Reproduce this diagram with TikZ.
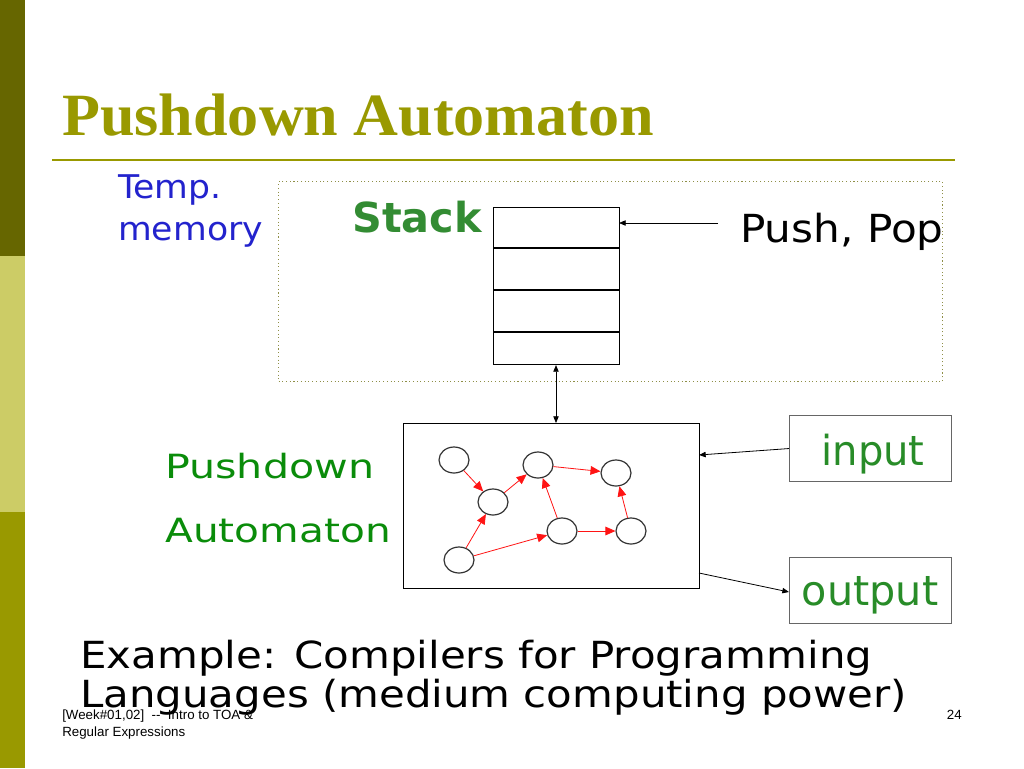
\documentclass[tikz,border=0pt]{standalone}
\usepackage{graphicx}
\usepackage{fontspec}
\setmainfont{DejaVu Sans}
\newfontfamily\titlefont{Liberation Serif}
\newfontfamily\footfont{Liberation Sans}
\usetikzlibrary{arrows.meta,shapes.geometric}
\definecolor{olivedark}{RGB}{102,102,0}
\definecolor{olivelight}{RGB}{204,204,102}
\definecolor{olivemid}{RGB}{153,153,0}
\definecolor{tempblue}{RGB}{35,35,205}
\definecolor{stackgreen}{RGB}{51,140,51}
\definecolor{pdagreen}{RGB}{10,140,10}
\definecolor{iogreen}{RGB}{40,140,40}
\definecolor{edgered}{RGB}{255,20,20}
\tikzset{
  px/.style={x=0.75pt,y=-0.75pt},
  txt/.style={anchor=base west, inner sep=0pt},
  state/.style={draw=black!80, line width=0.9pt, ellipse, minimum width=22.5pt, minimum height=19.5pt, inner sep=0pt},
  redarr/.style={draw=edgered, line width=0.6pt, -{Triangle[length=7.5pt,width=6.5pt]}},
  blkarr/.style={draw=black, line width=0.6pt, -{Triangle[length=5pt,width=4pt]}},
  iobox/.style={draw=black!60, line width=0.8pt, minimum width=121.5pt, minimum height=49.5pt, inner sep=0pt},
}
\begin{document}
\begin{tikzpicture}[px]
\useasboundingbox (0,0) rectangle (1024,768);
\fill[white] (0,0) rectangle (1024,768);
% left bar
\fill[olivedark] (0,0) rectangle (25,256);
\fill[olivelight] (0,256) rectangle (25,512);
\fill[olivemid] (0,512) rectangle (25,768);
% title
\node[txt, text=olivemid, font=\titlefont\bfseries\fontsize{45}{50}\selectfont] (title) at (62,135) {\scalebox{1.035}[1]{Pushdown Automaton}};
\draw[olivemid, line width=1.5pt] (52,160) -- (955,160);
% dotted memory area
\node[draw=olivelight!70!black, dotted, line width=0.8pt, minimum width=498pt, minimum height=150pt, inner sep=0pt, anchor=north west] (mem) at (278,181) {};
\node[txt, text=tempblue, font=\fontsize{24.5}{28}\selectfont] (temp) at (118,198) {\scalebox{1.06}[1]{Temp.}};
\node[txt, text=tempblue, font=\fontsize{24.5}{28}\selectfont] (memory) at (118,240) {\scalebox{1.06}[1]{memory}};
\node[txt, text=stackgreen, font=\bfseries\fontsize{31}{36}\selectfont] (stacklbl) at (352,232) {Stack};
% stack
\node[draw, line width=0.8pt, minimum width=94.5pt, minimum height=117.75pt, inner sep=0pt, anchor=north west] (stack) at (493,207) {};
\draw[line width=0.8pt] (493,248) -- (619,248);
\draw[line width=0.8pt] (493,290) -- (619,290);
\draw[line width=0.8pt] (493,332) -- (619,332);
\coordinate (pp) at (718,223);
\draw[blkarr] (pp) -- (619,223);
\node[txt, font=\fontsize{29}{34}\selectfont] (push) at (740,242) {\scalebox{1.09}[1]{Push, Pop}};
% automaton box
\node[draw, line width=0.9pt, minimum width=222pt, minimum height=123.75pt, inner sep=0pt, anchor=north west] (pda) at (403,423) {};
\draw[line width=0.6pt, {Triangle[length=5pt,width=4pt]}-{Triangle[length=5pt,width=4pt]}] (stack.south -| 556,0) -- (pda.north -| 556,0);
\node[txt, text=pdagreen, font=\fontsize{25}{30}\selectfont] (pl1) at (165,478) {\scalebox{1.235}[1]{Pushdown}};
\node[txt, text=pdagreen, font=\fontsize{25}{30}\selectfont] (pl2) at (165,542) {\scalebox{1.22}[1]{Automaton}};
% states
\node[state] (s1) at (454,460) {};
\node[state] (s2) at (493,502) {};
\node[state] (s3) at (538,465) {};
\node[state] (s4) at (616,473) {};
\node[state] (s5) at (562,531) {};
\node[state] (s6) at (631,531) {};
\node[state] (s7) at (459,560) {};
\draw[redarr] (s1) -- (s2);
\draw[redarr] (s2) -- (s3);
\draw[redarr] (s3) -- (s4);
\draw[redarr] (s5) -- (s3);
\draw[redarr] (s5) -- (s6);
\draw[redarr] (s6) -- (s4);
\draw[redarr] (s7) -- (s2);
\draw[redarr] (s7) -- (s5);
% io
\node[iobox, anchor=north west] (in) at (789,415) {};
\node[text=iogreen, font=\fontsize{31}{36}\selectfont, inner sep=0pt, anchor=base] (inl) at (873,465) {\scalebox{0.97}[1]{input}};
\node[iobox, anchor=north west] (out) at (789,557) {};
\node[text=iogreen, font=\fontsize{31}{36}\selectfont, inner sep=0pt, anchor=base] (outl) at (870,605) {output};
\draw[blkarr] (in.west) -- (699,455);
\coordinate (oa) at (699,573);
\draw[blkarr] (oa) -- (789,592);
% example
\node[txt, font=\fontsize{28}{33}\selectfont] (ex1) at (80,668) {\scalebox{1.124}[1]{Example: Compilers for Programming}};
\node[txt, font=\fontsize{28}{33}\selectfont] (ex2) at (80,707) {\scalebox{1.122}[1]{Languages (medium computing power)}};
% footer
\node[txt, font=\footfont\fontsize{10}{12}\selectfont] (f1) at (62,719) {[Week\#01,02] \ -- \ Intro to TOA \&};
\node[txt, font=\footfont\fontsize{10}{12}\selectfont] (f2) at (62,736) {Regular Expressions};
\node[anchor=base east, font=\footfont\fontsize{10}{12}\selectfont, inner sep=0pt] (pg) at (962,719) {24};
\end{tikzpicture}
\end{document}
